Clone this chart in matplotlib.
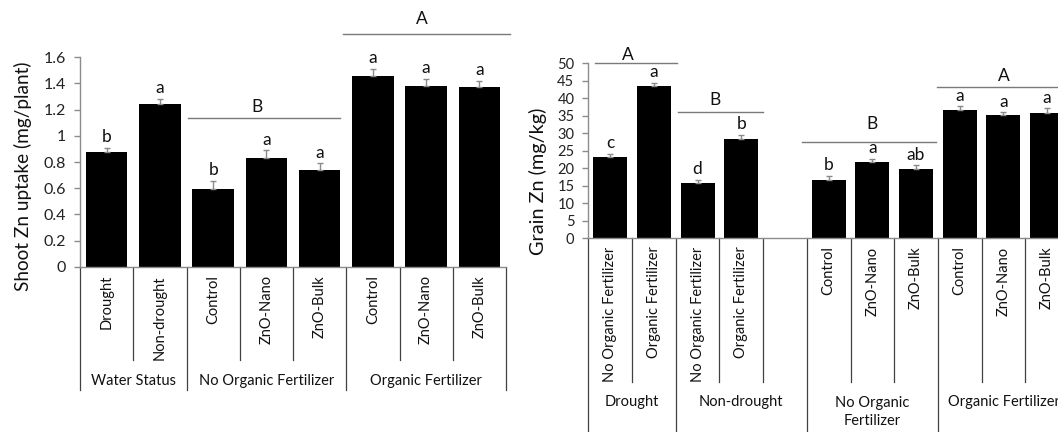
import matplotlib
matplotlib.use('Agg')
import matplotlib.pyplot as plt
import matplotlib.transforms as mtransforms
import numpy as np

plt.rcParams['font.family'] = ['Lato', 'DejaVu Sans']

# ---------------- data: shoot Zn uptake ----------------
shoot_cats = ['Drought', 'Non-drought', 'Control', 'ZnO-Nano', 'ZnO-Bulk',
              'Control', 'ZnO-Nano', 'ZnO-Bulk']
shoot_vals = [0.875, 1.245, 0.595, 0.830, 0.740, 1.455, 1.378, 1.370]
shoot_err = [0.035, 0.040, 0.060, 0.058, 0.050, 0.058, 0.055, 0.052]
shoot_letters = ['b', 'a', 'b', 'a', 'a', 'a', 'a', 'a']
shoot_groups = ['Water Status', 'No Organic Fertilizer', 'Organic Fertilizer']
shoot_group_sizes = [2, 3, 3]
shoot_group_letters = ['B', 'A']
shoot_ylabel = 'Shoot Zn uptake (mg/plant)'
shoot_ticks = [0, 0.2, 0.4, 0.6, 0.8, 1.0, 1.2, 1.4, 1.6]
shoot_ticklabels = ['0', '0.2', '0.4', '0.6', '0.8', '1', '1.2', '1.4', '1.6']

# ---------------- data: grain Zn ----------------
grain_cats = ['No Organic Fertilizer', 'Organic Fertilizer',
              'No Organic Fertilizer', 'Organic Fertilizer', '',
              'Control', 'ZnO-Nano', 'ZnO-Bulk', 'Control', 'ZnO-Nano', 'ZnO-Bulk']
grain_vals = [23.2, 43.4, 15.7, 28.5, np.nan, 16.6, 21.8, 19.8, 36.8, 35.1, 35.9]
grain_err = [1.0, 1.0, 0.9, 1.0, np.nan, 1.3, 0.95, 1.05, 0.9, 0.9, 1.2]
grain_letters = ['c', 'a', 'd', 'b', '', 'b', 'a', 'ab', 'a', 'a', 'a']
grain_groups = ['Drought', 'Non-drought', 'No Organic\nFertilizer', 'Organic Fertilizer']
grain_group_sizes = [2, 3, 3, 3]
grain_group_letters = ['A', 'B', 'B', 'A']
grain_ylabel = 'Grain Zn (mg/kg)'
grain_ticks = [0, 5, 10, 15, 20, 25, 30, 35, 40, 45, 50]

W, H = 1058, 432
fig = plt.figure(figsize=(W / 100, H / 100), dpi=100)
renderer = fig.canvas.get_renderer()

AXC = '#8c8c8c'
DIV = '#404040'
BRC = '#7a7a7a'
TXT = '#111111'
FS = 10.5
LFS = 12.5


def px_axes(left, right, bottom, top):
    return fig.add_axes([left / W, (H - bottom) / H, (right - left) / W, (bottom - top) / H])


def style(ax, tfs):
    for s in ['top', 'right']:
        ax.spines[s].set_visible(False)
    for s in ['left', 'bottom']:
        ax.spines[s].set_color(AXC)
        ax.spines[s].set_linewidth(1)
    ax.tick_params(axis='y', direction='out', length=4, width=1, color=AXC,
                   labelsize=tfs, labelcolor='#222222', pad=6)
    ax.tick_params(axis='x', length=0, labelbottom=False)


def vlabel(s, xc, yc, length):
    t = fig.text(xc / W, 1 - yc / H, s, rotation=90, ha='center', va='center',
                 fontsize=12, color=TXT)
    bb = t.get_window_extent(renderer)
    t.set_fontsize(12 * length / bb.height)
    return t


def draw_bars(ax, vals, err, letters, bw, lfs):
    x = np.arange(len(vals))
    v = np.array(vals, dtype=float)
    e = np.array(err, dtype=float)
    ax.bar(x, v, width=bw, color='black', zorder=2)
    ax.errorbar(x, v, yerr=[np.zeros_like(e), e], fmt='none', ecolor='#8a8a8a',
                elinewidth=1, capsize=2.5, capthick=1, zorder=3)
    for xi, vi, ei, lt in zip(x, v, e, letters):
        if lt and not np.isnan(vi):
            ax.annotate(lt, (xi, vi + ei), xytext=(0, 2), textcoords='offset points',
                        ha='center', va='bottom', fontsize=lfs, color=TXT)


# ================= left chart =================
axL = px_axes(80, 506, 266.7, 57.3)
style(axL, 11.5)
n = len(shoot_vals)
axL.set_xlim(-0.5, n - 0.5)
axL.set_ylim(0, 1.6)
axL.set_yticks(shoot_ticks)
axL.set_yticklabels(shoot_ticklabels)
draw_bars(axL, shoot_vals, shoot_err, shoot_letters, 0.78, LFS)
vlabel(shoot_ylabel, 23, 176.5, 228)

trL = mtransforms.blended_transform_factory(axL.transData, axL.transAxes)
hL = 266.7 - 57.3
short_L = -(360 - 266.7) / hL
long_L = -(390 - 266.7) / hL
cat_top_L = -(275 - 266.7) / hL
grp_y_L = -(381 - 266.7) / hL
bounds = np.cumsum([0] + shoot_group_sizes) - 0.5
for b in np.arange(-0.5, n, 1.0):
    y1 = long_L if np.any(np.isclose(bounds, b)) else short_L
    axL.plot([b, b], [0, y1], transform=trL, color=DIV, lw=0.9, clip_on=False)
for i, c in enumerate(shoot_cats):
    axL.text(i, cat_top_L, c, transform=trL, rotation=90, ha='center', va='top',
             fontsize=FS, color=TXT)
for g, (a, b) in zip(shoot_groups, zip(bounds[:-1], bounds[1:])):
    axL.text((a + b) / 2, grp_y_L, g, transform=trL, ha='center', va='center',
             fontsize=FS, color=TXT)

# significance brackets (left)
br_L = [(1.53, 4.38, 1.135, 2.82, 1.22), (4.44, 7.57, 1.775, 5.92, 1.89)]
for (x0, x1, yb, xt, yt), lt in zip(br_L, shoot_group_letters):
    axL.plot([x0, x1], [yb, yb], color=BRC, lw=1, clip_on=False)
    axL.text(xt, yt, lt, ha='center', va='center', fontsize=LFS, color=TXT)

# ================= right chart =================
cw = 43.7
m = len(grain_vals)
axR = px_axes(588.3, 588.3 + cw * m, 238.3, 63.3)
style(axR, FS)
axR.set_xlim(-0.5, m - 0.5)
axR.set_ylim(0, 50)
axR.set_yticks(grain_ticks)
draw_bars(axR, grain_vals, grain_err, grain_letters, 0.78, LFS)
vlabel(grain_ylabel, 538.3, 181.5, 147)

trR = mtransforms.blended_transform_factory(axR.transData, axR.transAxes)
hR = 238.3 - 63.3
short_R = -(381.7 - 238.3) / hR
long_R = -(432 - 238.3) / hR
cat_top_R = -(246.5 - 238.3) / hR
grp_y_R = -(402 - 238.3) / hR
grp_y_R2 = -(412 - 238.3) / hR
boundsR = np.cumsum([0] + grain_group_sizes) - 0.5
for b in np.arange(-0.5, m, 1.0):
    y1 = long_R if np.any(np.isclose(boundsR, b)) else short_R
    axR.plot([b, b], [0, y1], transform=trR, color=DIV, lw=0.9, clip_on=False)
for i, c in enumerate(grain_cats):
    axR.text(i, cat_top_R, c, transform=trR, rotation=90, ha='center', va='top',
             fontsize=FS, color=TXT)
for g, (a, b) in zip(grain_groups, zip(boundsR[:-1], boundsR[1:])):
    yy = grp_y_R2 if '\n' in g else grp_y_R
    axR.text((a + b) / 2, yy, g, transform=trR, ha='center', va='center',
             fontsize=FS, color=TXT, linespacing=1.45)

br_R = [(-0.35, 1.52, 50.0, 0.415, 52.4), (1.55, 3.49, 36.0, 2.39, 39.6),
        (4.40, 7.46, 27.6, 5.99, 32.7), (7.48, 11.0, 43.3, 9.01, 46.3)]
for (x0, x1, yb, xt, yt), lt in zip(br_R, grain_group_letters):
    axR.plot([x0, x1], [yb, yb], color=BRC, lw=1, clip_on=False)
    axR.text(xt, yt, lt, ha='center', va='center', fontsize=LFS, color=TXT)

fig.savefig('out.png', dpi=100)
